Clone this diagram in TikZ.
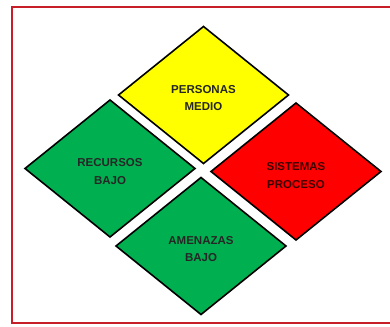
\documentclass[tikz,border=0pt]{standalone}
\usepackage{fontspec}
\setmainfont{Liberation Sans}
\usetikzlibrary{shapes.geometric}
\definecolor{frameRed}{RGB}{200,30,40}
\definecolor{cYellow}{RGB}{255,255,0}
\definecolor{cGreen}{RGB}{0,176,80}
\definecolor{cRed}{RGB}{255,0,0}
\begin{document}
\begin{tikzpicture}[x=1pt,y=1pt,
  dia/.style={diamond, draw=black, line width=1.6pt, minimum width=170pt, minimum height=137pt, inner sep=0pt, outer sep=0pt},
  lbl/.style={align=center, font=\fontsize{11.5}{17.5}\selectfont\bfseries, text=black!85}]
\useasboundingbox (0,0) rectangle (390,326);
\clip (0,0) rectangle (390,326);
\fill[white] (0,0) rectangle (390,326);
\draw[frameRed, line width=2.2pt] (12,3) rectangle (396,319);
\node[dia, fill=cYellow] (per) at (203.5,231) {};
\node[dia, fill=cGreen] (rec) at (110,157.5) {};
\node[dia, fill=cRed] (sis) at (296,154.5) {};
\node[dia, fill=cGreen] (ame) at (201,80) {};
\node[lbl] (tper) at ([yshift=-3pt]per.center) {PERSONAS\\MEDIO};
\node[lbl] (trec) at ([yshift=-3pt]rec.center) {RECURSOS\\BAJO};
\node[lbl, text={rgb,255:red,60;green,0;blue,0}] (tsis) at ([yshift=-4pt]sis.center) {SISTEMAS\\PROCESO};
\node[lbl] (tame) at ([yshift=-3pt]ame.center) {AMENAZAS\\BAJO};
\end{tikzpicture}
\end{document}
